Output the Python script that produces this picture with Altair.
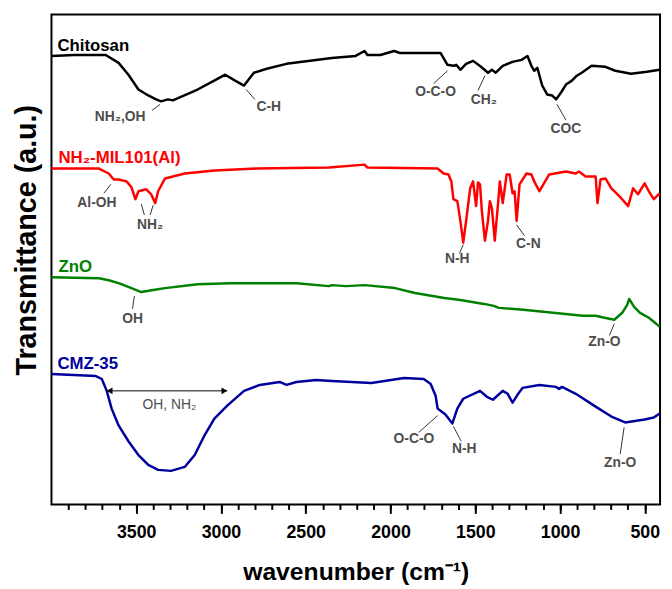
import altair as alt
import pandas as pd

# ---- spectra (wavenumber cm-1, transmittance a.u. with vertical offsets) ----
chitosan_wn = [4000, 3866, 3680, 3604, 3546, 3487, 3429, 3383, 3353, 3313, 3284, 3138, 3051, 2975, 2917, 2864,
               2806, 2730, 2614, 2346, 2206, 2153, 2136, 2060, 1979, 1944, 1705, 1664, 1629, 1612, 1588, 1554,
               1513, 1466, 1425, 1402, 1379, 1338, 1280, 1227, 1192, 1169, 1152, 1134, 1105, 1076, 1047, 1023,
               994, 965, 930, 901, 872, 814, 732, 674, 581, 488, 412]
chitosan_t = [454, 455, 455, 447, 435, 420, 414, 410, 408, 410, 409, 420, 428, 435, 429, 424,
              437, 441, 446, 452, 454, 459, 455, 455, 459, 457, 457, 445, 444, 445, 440, 446,
              449, 443, 437, 440, 437, 444, 448, 450, 454, 444, 439, 442, 424, 415, 414, 410,
              417, 425, 429, 434, 437, 444, 443, 439, 436, 438, 440]

mil_wn = [4000, 3720, 3662, 3633, 3604, 3557, 3528, 3505, 3487, 3441, 3412, 3388, 3371, 3330, 3214, 3039,
          2788, 2363, 2153, 2136, 1722, 1687, 1658, 1641, 1629, 1606, 1588, 1571, 1548, 1530, 1513, 1495,
          1484, 1472, 1461, 1443, 1425, 1414, 1402, 1385, 1367, 1355, 1338, 1315, 1297, 1280, 1268, 1256,
          1239, 1198, 1169, 1152, 1122, 1064, 965, 907, 889, 849, 790, 779, 761, 732, 697, 639, 598, 569,
          540, 501, 476, 447, 412]
mil_t = [340, 340, 335, 329, 329, 327, 321, 309, 317, 319, 314, 305, 317, 330, 335, 338,
         340, 341, 344, 341, 340, 335, 334, 327, 309, 307, 287, 265, 295, 320, 327, 302,
         326, 324, 297, 267, 287, 307, 300, 267, 302, 327, 305, 334, 334, 315, 317, 287,
         324, 335, 334, 327, 317, 334, 337, 335, 337, 332, 332, 305, 329, 330, 320, 310, 302, 320,
         314, 325, 317, 309, 315]

zno_wn = [4000, 3720, 3662, 3604, 3528, 3470, 3400, 3330, 3138, 2946, 2555, 2363, 2346, 2264, 2153, 1973,
          1856, 1682, 1588, 1449, 1390, 1361, 1216, 1041, 866, 790, 738, 680, 633, 604, 592, 563, 528,
          476, 447, 412]
zno_t = [230, 229, 227, 224, 219, 215, 217, 219, 223, 224, 224, 221, 222, 221, 222, 219,
         214, 209, 207, 203, 201, 199, 197, 194, 191, 191, 189, 187, 194, 202, 208, 200, 194,
         189, 185, 180]

cmz_wn = [4000, 3738, 3703, 3674, 3645, 3604, 3546, 3487, 3429, 3371, 3295, 3214, 3155, 3097, 3039, 2963,
          2864, 2771, 2654, 2614, 2555, 2439, 2346, 2113, 1920, 1804, 1763, 1734, 1722, 1699, 1676, 1658,
          1635, 1606, 1571, 1472, 1431, 1396, 1338, 1309, 1280, 1251, 1221, 1122, 1023, 1006, 988, 907,
          790, 697, 616, 501, 447, 412]
cmz_t = [132, 130, 127, 115, 97, 80, 64, 50, 40, 35, 34, 38, 50, 70, 87, 100,
         115, 121, 124, 121, 124, 126, 125, 123, 128, 127, 122, 110, 97, 94, 91, 87,
         82, 97, 107, 115, 109, 106, 115, 112, 103, 111, 118, 121, 119, 117, 119, 112,
         99, 89, 83, 86, 88, 92]

series_names = ["Chitosan", "NH₂-MIL101(Al)", "ZnO", "CMZ-35"]
series_colors = ["#000000", "#ff0000", "#008000", "#00009c"]
series_label_wn = [3965, 3959, 3959, 3965]
series_label_t = [459, 346, 235, 137]

# ---- band annotations ----
band_text = ["NH₂,OH", "C-H", "O-C-O", "CH₂", "COC",
             "Al-OH", "NH₂", "N-H", "C-N",
             "OH", "Zn-O",
             "O-C-O", "N-H", "Zn-O"]
band_wn = [3595, 2718, 1734, 1449, 965,
           3732, 3418, 1606, 1187,
           3522, 738,
           1862, 1565, 645]
band_t = [392, 402, 417, 409, 380,
          305, 283, 248, 264,
          188, 164,
          66, 56, 42]

leader_wn1 = [3406, 2852, 1746, 1484, 1018, 3691, 3470, 3400, 1571, 1256, 3511, 680, 1722, 1629, 622]
leader_t1 = [399, 420, 426, 419, 405, 315, 304, 303, 263, 283, 211, 183, 90, 79, 78]
leader_wn2 = [3359, 2800, 1664, 1443, 965, 3650, 3452, 3418, 1594, 1210, 3522, 709, 1833, 1583, 645]
leader_t2 = [405, 410, 439, 434, 389, 324, 293, 293, 254, 272, 198, 171, 73, 64, 51]

span_text = ["OH, NH₂"]
span_text_wn = [3304]
span_text_t = [101]
arrow_wn1 = [3674]
arrow_wn2 = [2963]
arrow_t = [115]
arrow_head_wn = [3657, 2980]
arrow_head_t = [115, 115]
arrow_head_shape = ["triangle-left", "triangle-right"]

major_ticks = [3500, 3000, 2500, 2000, 1500, 1000, 500]
minor_ticks = list(range(3900, 499, -100))

# ---- tables ----
rows = []
for name, wns, ts in zip(series_names, [chitosan_wn, mil_wn, zno_wn, cmz_wn],
                         [chitosan_t, mil_t, zno_t, cmz_t]):
    for w, t in zip(wns, ts):
        rows.append({"series": name, "wn": w, "t": t})
spectra = pd.DataFrame(rows)

labels_df = pd.DataFrame({"series": series_names, "wn": series_label_wn, "t": series_label_t})
band_df = pd.DataFrame({"text": band_text, "wn": band_wn, "t": band_t})
leader_df = pd.DataFrame({"wn": leader_wn1, "t": leader_t1, "wn2": leader_wn2, "t2": leader_t2})
span_df = pd.DataFrame({"text": span_text, "wn": span_text_wn, "t": span_text_t})
arrow_df = pd.DataFrame({"wn": arrow_wn1, "wn2": arrow_wn2, "t": arrow_t})
head_df = pd.DataFrame({"wn": arrow_head_wn, "t": arrow_head_t, "shape": arrow_head_shape})

FONT = "Liberation Sans, Arial, Helvetica, sans-serif"

xscale = alt.Scale(domain=[4000, 410], nice=False, zero=False)
yscale = alt.Scale(domain=[0, 496], nice=False, zero=False)
color_scale = alt.Scale(domain=series_names, range=series_colors)

major_axis = alt.Axis(values=major_ticks, orient="bottom", domain=False, grid=False, format="d",
                      tickSize=9, tickWidth=2, tickColor="black",
                      labelFont=FONT, labelFontSize=18, labelFontWeight="bold", labelColor="black",
                      labelPadding=10, labelFlush=False,
                      title="wavenumber (cm⁻¹)", titleFont=FONT, titleFontSize=25,
                      titleFontWeight="bold", titleColor="black", titlePadding=19)
minor_axis = alt.Axis(values=minor_ticks, orient="bottom", domain=False, grid=False,
                      labels=False, tickSize=5, tickWidth=2, tickColor="black", title=None)
y_axis = alt.Axis(orient="left", domain=False, ticks=False, labels=False, grid=False,
                  title="Transmittance (a.u.)", titleFont=FONT, titleFontSize=29,
                  titleFontWeight="bold", titleColor="black", titlePadding=10, titleY=228)

lines = alt.Chart(spectra).mark_line(strokeWidth=2.5, strokeJoin="round").encode(
    x=alt.X("wn:Q", scale=xscale, axis=major_axis),
    y=alt.Y("t:Q", scale=yscale, axis=y_axis),
    color=alt.Color("series:N", scale=color_scale, legend=None),
)

series_labels = alt.Chart(labels_df).mark_text(
    align="left", baseline="alphabetic", font=FONT, fontSize=17, fontWeight="bold"
).encode(
    x=alt.X("wn:Q", scale=xscale, axis=None),
    y=alt.Y("t:Q", scale=yscale, axis=None),
    color=alt.Color("series:N", scale=color_scale, legend=None),
    text="series:N",
)

leaders = alt.Chart(leader_df).mark_rule(color="#333333", strokeWidth=1).encode(
    x=alt.X("wn:Q", scale=xscale, axis=minor_axis),
    x2="wn2:Q",
    y=alt.Y("t:Q", scale=yscale, axis=None),
    y2="t2:Q",
)

bands = alt.Chart(band_df).mark_text(
    align="center", baseline="middle", font=FONT, fontSize=14, fontWeight="bold", color="#4d4d4d"
).encode(
    x=alt.X("wn:Q", scale=xscale, axis=None),
    y=alt.Y("t:Q", scale=yscale, axis=None),
    text="text:N",
)

span_label = alt.Chart(span_df).mark_text(
    align="center", baseline="middle", font=FONT, fontSize=14, fontWeight="normal", color="#4d4d4d"
).encode(
    x=alt.X("wn:Q", scale=xscale, axis=None),
    y=alt.Y("t:Q", scale=yscale, axis=None),
    text="text:N",
)

arrow = alt.Chart(arrow_df).mark_rule(color="black", strokeWidth=1).encode(
    x=alt.X("wn:Q", scale=xscale, axis=None),
    x2="wn2:Q",
    y=alt.Y("t:Q", scale=yscale, axis=None),
)

heads = alt.Chart(head_df).mark_point(filled=True, color="black", size=45, opacity=1).encode(
    x=alt.X("wn:Q", scale=xscale, axis=None),
    y=alt.Y("t:Q", scale=yscale, axis=None),
    shape=alt.Shape("shape:N", scale=None, legend=None),
)

chart = alt.layer(lines, leaders, series_labels, bands, span_label, arrow, heads).resolve_axis(
    x="independent", y="independent"
).properties(
    width=616, height=496,
    background="white",
    autosize=alt.AutoSizeParams(type="none"),
    padding={"left": 44, "top": 3, "right": 4, "bottom": 78},
).configure_view(stroke="black", strokeWidth=2, fill="white")

chart.save("out.html", embed_options={"renderer": "svg", "actions": False})
